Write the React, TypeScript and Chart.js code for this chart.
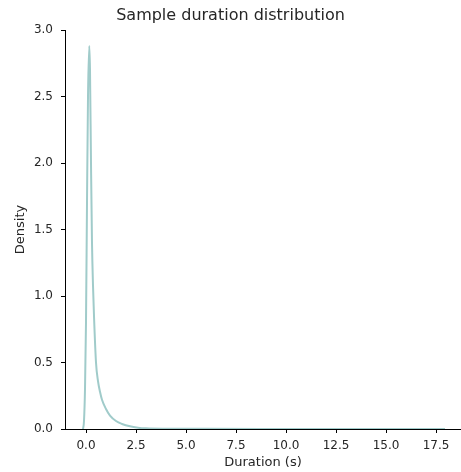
import React, { useEffect, useRef } from "react";
import { Chart, registerables } from "chart.js";

Chart.register(...registerables);

const durations = [-0.15, -0.1, -0.05, 0, 0.05, 0.1, 0.165, 0.2, 0.25, 0.3, 0.35, 0.4, 0.5, 0.6, 0.7, 0.8, 1.0, 1.2, 1.5, 1.8, 2.2, 2.6, 3.0, 4.0, 6.0, 9.0, 12.0, 15.0, 17.95];
const densities = [0.0, 0.06, 0.3, 0.8, 1.7, 2.5, 2.88, 2.7, 2.0, 1.4, 1.08, 0.85, 0.5, 0.36, 0.28, 0.22, 0.15, 0.1, 0.06, 0.038, 0.02, 0.01, 0.005, 0.002, 0.001, 0.0005, 0.0003, 0.0002, 0.0];
const xTicks = [0, 2.5, 5, 7.5, 10, 12.5, 15, 17.5];
const yTicks = [0, 0.5, 1, 1.5, 2, 2.5, 3];

const FONT = "'DejaVu Sans', sans-serif";
const INK = "#262626";

export default function App() {
  const ref = useRef<HTMLCanvasElement>(null);
  useEffect(() => {
    if (!ref.current) return;
    const chart = new Chart(ref.current, {
      type: "line",
      data: {
        datasets: [
          {
            data: durations.map((x, i) => ({ x, y: densities[i] })),
            borderColor: "#a0cbca",
            borderWidth: 2,
            pointRadius: 0,
            fill: false,
            cubicInterpolationMode: "monotone",
          },
        ],
      },
      options: {
        animation: false,
        responsive: false,
        layout: { padding: 0 },
        plugins: {
          legend: { display: false },
          tooltip: { enabled: false },
          title: {
            display: true,
            text: "Sample duration distribution",
            color: INK,
            font: { family: FONT, size: 16, weight: "normal" },
            padding: { top: 5.9, bottom: 4.9 },
          },
        },
        scales: {
          x: {
            type: "linear",
            min: -1.05,
            max: 18.75,
            afterBuildTicks: (s: any) => {
              s.ticks = xTicks.map((v) => ({ value: v }));
            },
            afterFit: (s: any) => {
              s.height = 43;
              s.paddingLeft = 0;
              s.paddingRight = 0;
            },
            grid: { drawOnChartArea: false, drawTicks: true, tickLength: 4, color: "#000" },
            border: { display: true, color: "#000", width: 1 },
            ticks: {
              autoSkip: false,
              maxRotation: 0,
              padding: 6,
              color: INK,
              font: { family: FONT, size: 12 },
              callback: (v: any) => Number(v).toFixed(1),
            },
            title: {
              display: true,
              text: "Duration (s)",
              color: INK,
              font: { family: FONT, size: 13 },
              padding: { top: 0, bottom: 1.5 },
            },
          },
          y: {
            type: "linear",
            min: 0,
            max: 3,
            afterBuildTicks: (s: any) => {
              s.ticks = yTicks.map((v) => ({ value: v }));
            },
            afterFit: (s: any) => {
              s.width = 65;
              s.paddingTop = 0;
              s.paddingBottom = 0;
            },
            grid: { drawOnChartArea: false, drawTicks: true, tickLength: 4, color: "#000" },
            border: { display: true, color: "#000", width: 1 },
            ticks: {
              autoSkip: false,
              padding: 8,
              color: INK,
              font: { family: FONT, size: 12 },
              callback: (v: any) => Number(v).toFixed(1),
            },
            title: {
              display: true,
              text: "Density",
              color: INK,
              font: { family: FONT, size: 13 },
              padding: { top: 13, bottom: 0 },
            },
          },
        },
      },
    });
    return () => chart.destroy();
  }, []);
  return (
    <div style={{ position: "fixed", left: 0, top: 0, width: 461, height: 472, background: "#fff" }}>
      <canvas ref={ref} width={461} height={472} style={{ width: 461, height: 472 }} />
    </div>
  );
}
